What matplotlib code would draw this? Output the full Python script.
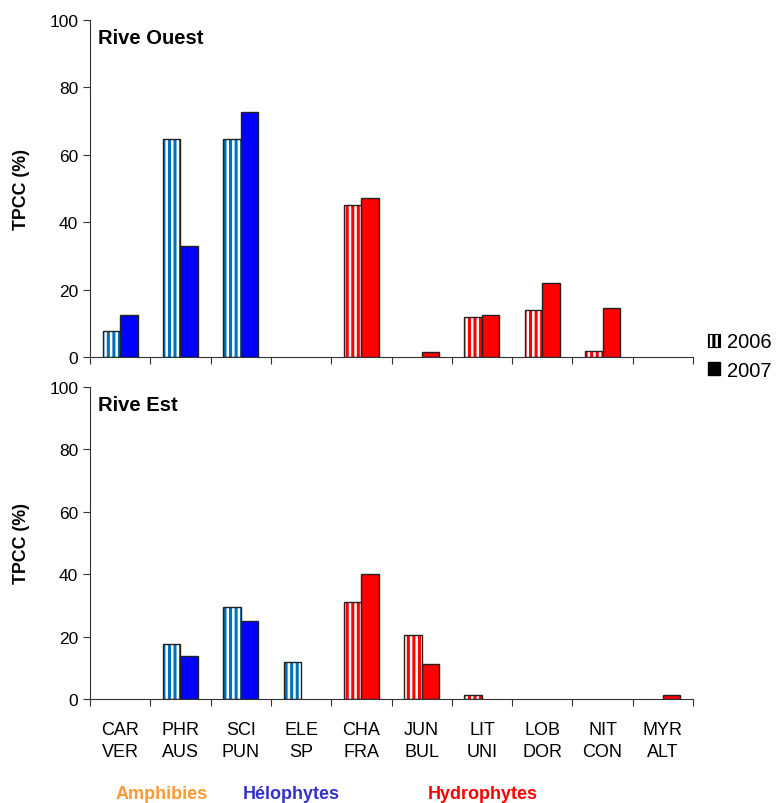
import matplotlib
matplotlib.use("Agg")
import matplotlib.pyplot as plt
import numpy as np
from matplotlib.patches import Patch

plt.rcParams['font.family'] = ['Liberation Sans', 'DejaVu Sans']
plt.rcParams['hatch.linewidth'] = 2.2

categories = ["CAR\nVER", "PHR\nAUS", "SCI\nPUN", "ELE\nSP", "CHA\nFRA",
              "JUN\nBUL", "LIT\nUNI", "LOB\nDOR", "NIT\nCON", "MYR\nALT"]
group = ["helo", "helo", "helo", "helo", "hydro", "hydro", "hydro", "hydro", "hydro", "hydro"]

ouest_2006 = [7.7, 64.7, 64.7, 0, 45.2, 0, 11.8, 13.8, 1.8, 0]
ouest_2007 = [12.5, 33.0, 72.8, 0, 47.1, 1.5, 12.5, 22.0, 14.6, 0]
est_2006 = [0, 17.6, 29.5, 11.9, 31.0, 20.6, 1.4, 0, 0, 0]
est_2007 = [0, 13.8, 25.0, 0, 40.0, 11.2, 0, 0, 0, 1.2]

panels = [("Rive Ouest", ouest_2006, ouest_2007), ("Rive Est", est_2006, est_2007)]

solid = {"helo": "#0000FF", "hydro": "#FF0000"}
stripe = {"helo": "#0070C0", "hydro": "#FF0000"}

fig = plt.figure(figsize=(7.81, 8.04), dpi=100)
W, H = 781, 804
left, right = 90 / W, 693 / W
boxes = [(21, 358), (388, 700)]

x = np.arange(len(categories))
bw = 0.29

for i, ((title, v06, v07), (top, bot)) in enumerate(zip(panels, boxes)):
    ax = fig.add_axes([left, 1 - bot / H, right - left, (bot - top) / H])
    for j in range(len(categories)):
        g = group[j]
        if v06[j] > 0:
            ax.bar(x[j] - bw / 2, v06[j], bw, facecolor="white", edgecolor=stripe[g],
                   hatch="|||", linewidth=0, zorder=2)
            ax.bar(x[j] - bw / 2, v06[j], bw, fill=False, edgecolor="#222222",
                   linewidth=1.0, zorder=3)
        if v07[j] > 0:
            ax.bar(x[j] + bw / 2, v07[j], bw, facecolor=solid[g], edgecolor="#222222",
                   linewidth=1.0, zorder=3)
    ax.set_xlim(-0.5, len(categories) - 0.5)
    ax.set_ylim(0, 100)
    ax.set_yticks([0, 20, 40, 60, 80, 100])
    ax.tick_params(axis="y", labelsize=12.5, length=5, direction="out", color="#333333")
    ax.set_xticks(np.arange(-0.5, len(categories) + 0.5, 1))
    ax.tick_params(axis="x", length=5, direction="out", color="#333333")
    ax.set_xticklabels([])
    if i == 1:
        ax.set_xticks(x, minor=True)
        ax.set_xticklabels(categories, minor=True, fontsize=13, linespacing=1.38)
        ax.tick_params(axis="x", which="minor", length=0, pad=16)
    for s in ["top", "right"]:
        ax.spines[s].set_visible(False)
    for s in ["left", "bottom"]:
        ax.spines[s].set_color("#333333")
    ax.set_ylabel("TPCC (%)", fontsize=12.8, fontweight="bold", labelpad=14)
    ax.text(0.013, 0.975, title, transform=ax.transAxes, fontsize=14.5,
            fontweight="bold", va="top", ha="left")

handles = [Patch(facecolor="white", edgecolor="black", hatch="|||", linewidth=0.8),
           Patch(facecolor="black", edgecolor="black")]
fig.legend(handles, ["2006", "2007"], loc="center left",
           bbox_to_anchor=(708 / W, 1 - 357 / H), frameon=False, fontsize=14.5,
           handlelength=0.6, handleheight=0.6, handletextpad=0.35, labelspacing=0.45,
           borderpad=0.0, borderaxespad=0.0)

fig.text(162 / W, 1 - 795 / H, "Amphibies", color="#FF9933", fontsize=13,
         fontweight="bold", ha="center", va="center")
fig.text(291 / W, 1 - 795 / H, "Hélophytes", color="#3333CC", fontsize=13,
         fontweight="bold", ha="center", va="center")
fig.text(483 / W, 1 - 795 / H, "Hydrophytes", color="#FF0000", fontsize=13,
         fontweight="bold", ha="center", va="center")

fig.savefig("out.png", dpi=100)
